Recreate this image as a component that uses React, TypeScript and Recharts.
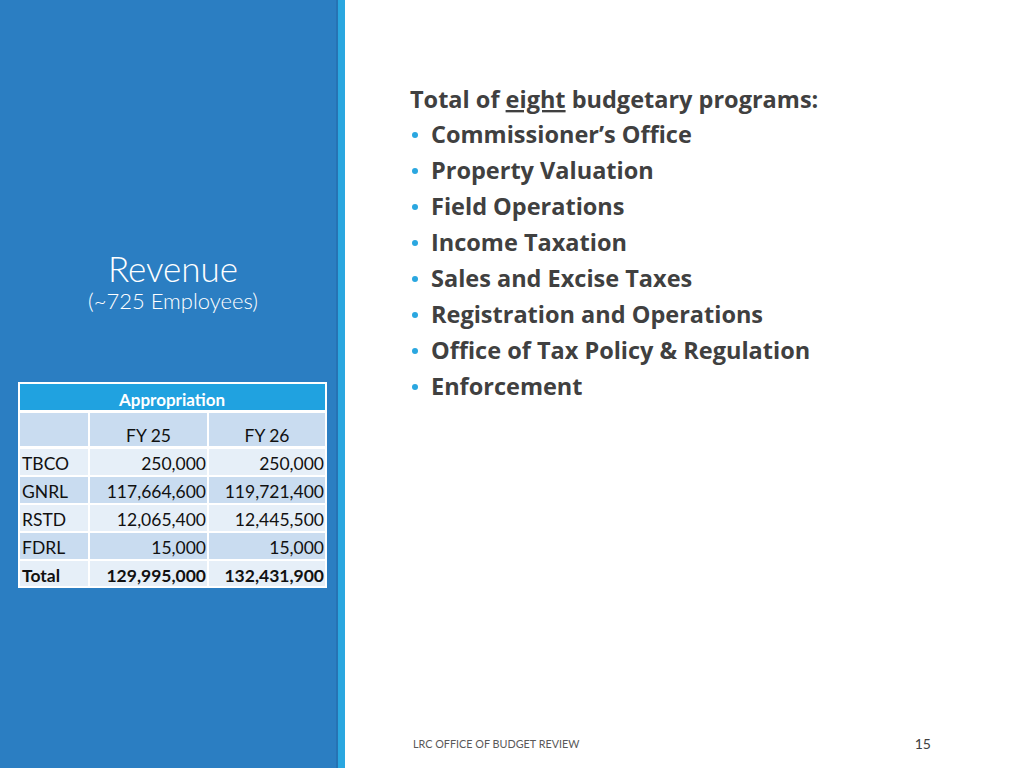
import React from 'react';
import { Surface, Layer, Rectangle } from 'recharts';

const programsTitle = ['Total of ', 'eight', ' budgetary programs:'];
const programs = [
  'Commissioner\u2019s Office',
  'Property Valuation',
  'Field Operations',
  'Income Taxation',
  'Sales and Excise Taxes',
  'Registration and Operations',
  'Office of Tax Policy & Regulation',
  'Enforcement',
];
const fiscalYears = ['FY 25', 'FY 26'];
const rowLabels = ['TBCO', 'GNRL', 'RSTD', 'FDRL', 'Total'];
const fy25 = [250000, 117664600, 12065400, 15000, 129995000];
const fy26 = [250000, 119721400, 12445500, 15000, 132431900];

const FONT = 'Lato, "Open Sans", sans-serif';
const FONT_R = '"Open Sans", Lato, sans-serif';
const fmt = (n: number) => n.toLocaleString('en-US');

const PANEL = '#2B7EC2';
const STRIP = '#2AA7E0';
const HEAD = '#20A2E0';
const DARK_ROW = '#C9DCF0';
const LIGHT_ROW = '#E6EFF8';
const TEXT = '#404040';

export default function App() {
  const tx = 20;
  const cols = [
    { x: 20, w: 68 },
    { x: 90, w: 117 },
    { x: 209, w: 116 },
  ];
  const headY = 384;
  const headH = 26;
  const fyY = 413;
  const fyH = 33;
  const rowStart = 449;
  const rowPitch = 28;
  const rowH = 26;

  return (
    <div style={{ position: 'fixed', left: 0, top: 0, width: 1024, height: 768, background: '#fff' }}>
      <Surface width={1024} height={768} viewBox={{ x: 0, y: 0, width: 1024, height: 768 }}>
        <Layer>
          <Rectangle x={0} y={0} width={338} height={768} fill={PANEL} />
          <Rectangle x={336} y={0} width={2} height={768} fill="#2672B3" />
          <Rectangle x={338} y={0} width={7} height={768} fill={STRIP} />
        </Layer>

        <Layer>
          <text x={173} y={282} textAnchor="middle" fill="#fff" fontFamily={FONT} fontWeight={300} fontSize={35}>
            Revenue
          </text>
          <text x={173} y={309} textAnchor="middle" fill="#fff" fontFamily={FONT} fontWeight={300} fontSize={22}>
            (~725 Employees)
          </text>
        </Layer>

        <Layer>
          <Rectangle x={tx - 2} y={headY - 2} width={309} height={586 - headY + 4} fill="#fff" />
          <Rectangle x={tx} y={headY} width={305} height={headH} fill={HEAD} />
          <text x={172} y={headY + 22} textAnchor="middle" fill="#fff" fontFamily={FONT} fontWeight={700} fontSize={17}>
            Appropriation
          </text>
          {cols.map((c, i) => (
            <Rectangle key={`fy${i}`} x={c.x} y={fyY} width={c.w} height={fyH} fill={DARK_ROW} />
          ))}
          {fiscalYears.map((fy, i) => (
            <text key={fy} x={cols[i + 1].x + cols[i + 1].w / 2} y={fyY + 29} textAnchor="middle" fill="#111" fontFamily={FONT} fontSize={17.5}>
              {fy}
            </text>
          ))}
          {rowLabels.map((lab, r) => {
            const y = rowStart + r * rowPitch;
            const fill = r % 2 === 0 ? LIGHT_ROW : DARK_ROW;
            const bold = lab === 'Total';
            return (
              <g key={lab}>
                {cols.map((c, i) => (
                  <Rectangle key={i} x={c.x} y={y} width={c.w} height={r === rowLabels.length - 1 ? rowH - 1 : rowH} fill={fill} />
                ))}
                <text x={cols[0].x + 2} y={y + 21} fill="#111" fontFamily={FONT} fontWeight={bold ? 700 : 400} fontSize={17.5}>
                  {lab}
                </text>
                <text x={cols[1].x + cols[1].w - 1} y={y + 21} textAnchor="end" fill="#111" fontFamily={FONT} fontWeight={bold ? 700 : 400} fontSize={17.5}>
                  {fmt(fy25[r])}
                </text>
                <text x={cols[2].x + cols[2].w - 1} y={y + 21} textAnchor="end" fill="#111" fontFamily={FONT} fontWeight={bold ? 700 : 400} fontSize={17.5}>
                  {fmt(fy26[r])}
                </text>
              </g>
            );
          })}
        </Layer>

        <Layer>
          <text x={410} y={108} fill={TEXT} fontFamily={FONT_R} fontWeight={700} fontSize={23.5}>
            <tspan>{programsTitle[0]}</tspan>
            <tspan textDecoration="underline" style={{ textDecoration: 'underline' }}>{programsTitle[1]}</tspan>
            <tspan>{programsTitle[2]}</tspan>
          </text>
          {programs.map((p, i) => (
            <g key={p}>
              <circle cx={415} cy={135 + i * 36} r={3} fill={STRIP} />
              <text x={431} y={143 + i * 36} fill={TEXT} fontFamily={FONT_R} fontWeight={700} fontSize={23.5}>
                {p}
              </text>
            </g>
          ))}
        </Layer>

        <Layer>
          <text x={413} y={748} fill="#595959" fontFamily={FONT} fontSize={10.8}>
            LRC OFFICE OF BUDGET REVIEW
          </text>
          <text x={931} y={749} textAnchor="end" fill="#404040" fontFamily={FONT} fontSize={14}>
            15
          </text>
        </Layer>
      </Surface>
    </div>
  );
}
